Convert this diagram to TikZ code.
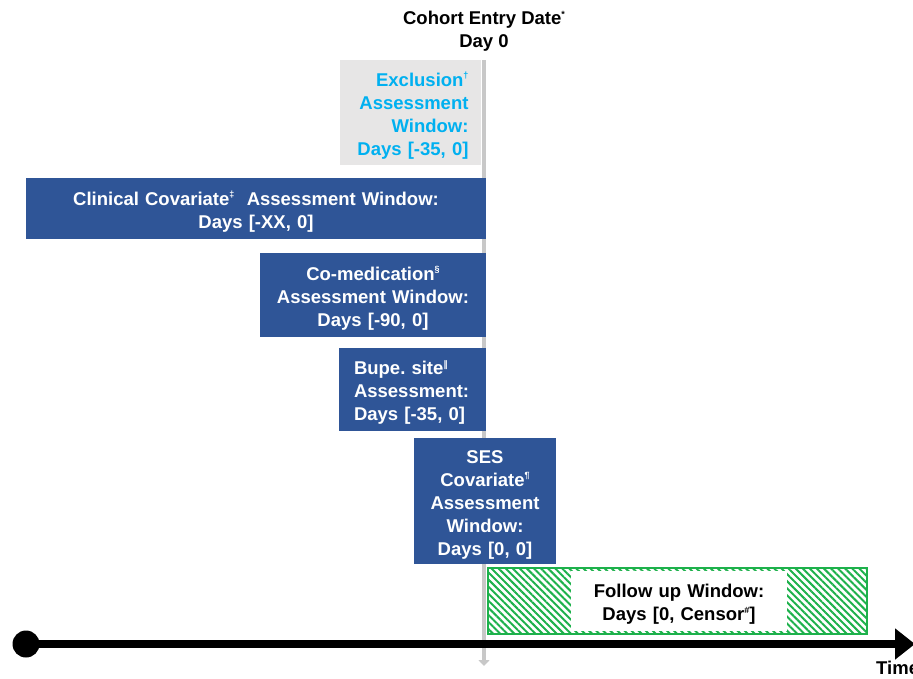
\documentclass[tikz,border=0pt]{standalone}
\usepackage{fontspec}
\setmainfont{Liberation Sans}
\newfontfamily\symfont{DejaVu Sans}
\usetikzlibrary{arrows.meta, patterns.meta}
\definecolor{winblue}{HTML}{2F5597}
\definecolor{exblue}{HTML}{00B0F0}
\definecolor{exgray}{HTML}{E7E6E6}
\definecolor{fugreen}{HTML}{1DB14B}
\definecolor{daygray}{HTML}{C8C8C8}
\newcommand{\boxfont}{\fontsize{18.5}{23}\selectfont\bfseries\frenchspacing}
\newcommand{\sym}[1]{\raisebox{0.75ex}{\fontsize{9}{9}\selectfont #1}}
\tikzstyle{window}=[rectangle, fill=winblue, text=white, inner sep=0pt, align=center, font=\boxfont, text height=20pt]
\newcommand{\window}{\node[window]}

\begin{document}
\begin{tikzpicture}[x=1pt, y=-1pt]
\useasboundingbox (0,0) rectangle (913,678);
% day 0 line
\node[font=\boxfont, align=center] (entry) at (484,31) {Cohort Entry Date\sym{*}\\ Day 0};
\coordinate (daytop) at (484,60);
\coordinate (daybot) at (484,666);
\draw[daygray, line width=4.5pt, -{Triangle[length=6pt, width=11pt]}] (daytop) -- (daybot);
% windows before day 0
\node[window, fill=exgray, text=exblue, align=right, minimum width=141pt, minimum height=105pt, text width=117pt] (excl) at (410,112.5) {Exclusion\sym{†}\\ Assessment\\ Window:\\ Days [-35, 0]};
\window (clin) at (256,208.5)[minimum width=460pt, minimum height=61pt, text width=440pt]{Clinical Covariate\sym{‡}\ \ Assessment Window:\\ Days [-XX, 0]};
\window (comed) at (373,295)[minimum width=226pt, minimum height=84pt, text width=210pt]{Co-medication\sym{§}\\ Assessment Window:\\ Days [-90, 0]};
\window (bupe) at (412.5,389.5)[align=left, minimum width=147pt, minimum height=83pt, text width=117pt]{Bupe. site\sym{\symfont ‖}\\ Assessment:\\ Days [-35, 0]};
\window (ses) at (485,501)[minimum width=142pt, minimum height=126pt, text width=130pt]{SES\\ Covariate\sym{¶}\\ Assessment\\ Window:\\ Days [0, 0]};
% follow up
\draw[fugreen, line width=1.2pt, pattern={Lines[angle=-45, distance=5pt, line width=2pt]}, pattern color=fugreen] (488,568) rectangle (867,634);
\window (follow) at (679,601)[fill=white, text=black, minimum width=216pt, minimum height=60pt, text width=200pt]{Follow up Window:\\ Days [0, Censor\sym{\#}]};
% time axis
\node[circle, fill=black, inner sep=0pt, minimum size=27pt] (start) at (26,644) {};
\coordinate (timeend) at (915,644);
\draw[line width=7.5pt, -{Triangle[length=20pt, width=30pt]}] (start.center) -- (timeend);
\node[anchor=west, inner sep=0pt, font=\boxfont] (time) at (876,668) {Time};
\end{tikzpicture}
\end{document}
